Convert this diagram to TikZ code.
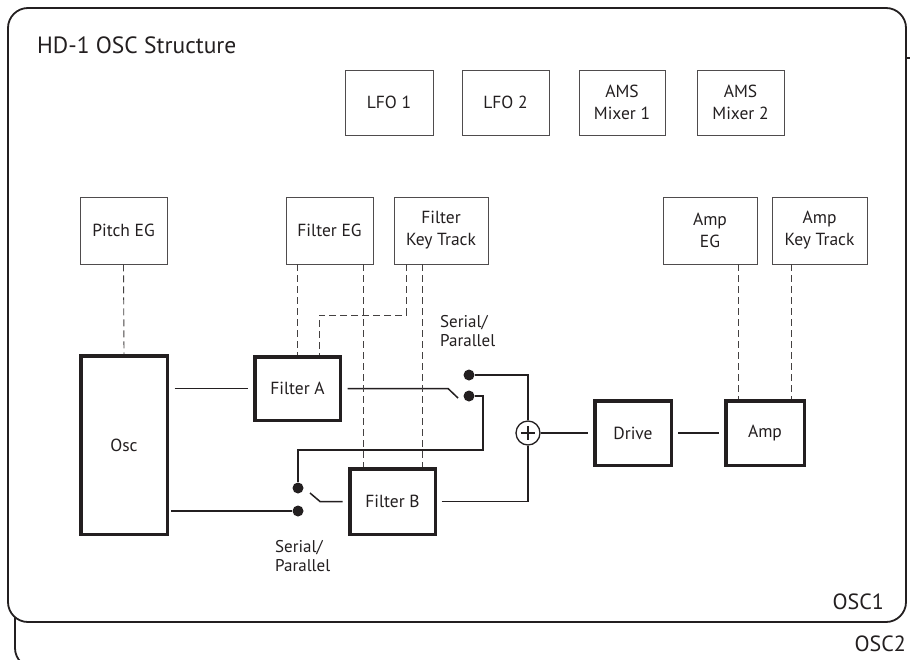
\documentclass[tikz,border=0pt]{standalone}
\usepackage{fontspec}
\setmainfont{PT Sans}
\definecolor{ink}{HTML}{231F20}
\begin{document}
\begin{tikzpicture}[x=1pt,y=-1pt,
  every node/.style={text=ink},
  tb/.style={draw=ink!80, line width=0.9pt, minimum width=#1, inner sep=0pt, align=center,
    font=\fontsize{17.5}{22}\selectfont},
  thick box/.style={draw=ink, line width=3.5pt, inner sep=0pt, align=center,
    font=\fontsize{17.5}{22}\selectfont},
  wire/.style={draw=ink, line width=1.5pt},
  dsh/.style={draw=ink!85, line width=0.9pt, dash pattern=on 7pt off 4pt},
  frame/.style={draw=ink, line width=1.8pt, rounded corners=20pt},
  sdot/.style={circle, fill=ink, inner sep=0pt, minimum size=11pt},
  lbl/.style={align=left, font=\fontsize{17}{19}\selectfont, inner sep=0pt}
]
\useasboundingbox (0,0) rectangle (910,659);
% OSC2 frame (behind)
\begin{scope}
  \clip (0,0) rectangle (910,659);
  \draw[frame] (15,58) rectangle (980,668);
\end{scope}
% OSC1 frame
\draw[frame, fill=white] (8,8) rectangle (906,622);

\node[anchor=base west, inner sep=0pt, font=\fontsize{23.5}{28}\selectfont] (title) at (37,53) {HD-1 OSC Structure};

% top row
\node[tb=88pt, minimum height=65pt] (lfo1) at (389,102.5) {LFO 1};
\node[tb=87pt, minimum height=65pt] (lfo2) at (505.5,102.5) {LFO 2};
\node[tb=86pt, minimum height=65pt] (ams1) at (622,102.5) {AMS\\Mixer 1};
\node[tb=87pt, minimum height=65pt] (ams2) at (740.5,102.5) {AMS\\Mixer 2};

% modulators
\node[tb=87pt, minimum height=67pt] (peg) at (123.5,230.5) {Pitch EG};
\node[tb=87pt, minimum height=67pt] (feg) at (329.5,230.5) {Filter EG};
\node[tb=94pt, minimum height=67pt] (fkt) at (441,230.5) {Filter\\Key Track};
\node[tb=94pt, minimum height=67pt] (aeg) at (710,230.5) {Amp\\EG};
\node[tb=95pt, minimum height=67pt] (akt) at (819.5,230.5) {Amp\\Key Track};

% signal path
\node[thick box, minimum width=86.5pt, minimum height=178.5pt] (osc) at (124,445) {Osc};
\node[thick box, minimum width=85.5pt, minimum height=63.5pt] (fa) at (297.5,388.5) {Filter A};
\node[thick box, minimum width=85.5pt, minimum height=65.5pt] (fb) at (392.5,501.5) {Filter B};
\node[thick box, minimum width=76.5pt, minimum height=64.5pt] (drive) at (633,433) {Drive};
\node[thick box, minimum width=78.5pt, minimum height=64.5pt] (amp) at (765,433) {Amp};
\node[circle, draw=ink, line width=1.3pt, minimum size=24pt, inner sep=0pt] (plus) at (528,433) {};
\draw[ink, line width=1.3pt] (plus.center) +(-7,0) -- +(7,0) (plus.center) +(0,-7) -- +(0,7);

% switch contacts
\node[sdot] (d1) at (469,375) {};
\node[sdot] (d2) at (469,396) {};
\node[sdot] (d3) at (298,488) {};
\node[sdot] (d4) at (298,511) {};
\coordinate (sw1p) at (448,388.5);
\coordinate (sw1q) at (458,398);
\coordinate (sw2p) at (310,493);
\coordinate (sw2q) at (320,501.5);
\coordinate (c1) at (483,450);

% wires
\draw[wire, shorten <=5.5pt, shorten >=5.5pt] (fa.west -| osc.east) -- (fa.west);
\draw[wire, shorten <=2pt] (d4 -| osc.east) -- (d4);
\draw[wire] ([xshift=5.5pt]fa.east) -- (sw1p) -- (sw1q);
\draw[wire] (d1) -| (plus.north);
\draw[wire] (d2) -| (c1) -| (d3);
\draw[wire, shorten >=5.5pt] (sw2p) -- (sw2q) -- (fb.west);
\draw[wire] ([xshift=4.5pt]fb.east) -| (plus.south);
\draw[wire, shorten >=5.5pt] (plus.east) -- (drive.west);
\draw[wire, shorten <=5pt, shorten >=5.5pt] (drive.east) -- (amp.west);

% modulation (dashed)
\draw[dsh] (peg.south) -- (osc.north);
\draw[dsh] (fa.north |- feg.south) -- (fa.north);
\draw[dsh] ([xshift=-10pt]feg.south east) -- ([xshift=-10pt]feg.south east |- fb.north);
\coordinate (k1) at (319,315);
\draw[dsh] ([xshift=13pt]fkt.south west) |- (k1) -- (k1 |- fa.north);
\draw[dsh] ([xshift=29pt]fkt.south west) -- ([xshift=29pt]fkt.south west |- fb.north);
\draw[dsh] ([xshift=14.25pt]amp.north west |- aeg.south) -- ([xshift=14.25pt]amp.north west);
\draw[dsh] ([xshift=-15pt]amp.north east |- akt.south) -- ([xshift=-15pt]amp.north east);

% labels (base anchor = baseline of last line)
\node[lbl, anchor=base west] (sp1) at (440,346) {Serial/\\Parallel};
\node[lbl, anchor=base west] (sp2) at (275,571) {Serial/\\Parallel};
\node[anchor=base east, inner sep=0pt, font=\fontsize{22}{26}\selectfont] (osc1) at (884,609) {OSC1};
\node[anchor=base east, inner sep=0pt, font=\fontsize{22}{26}\selectfont] (osc2) at (906,651) {OSC2};
\end{tikzpicture}
\end{document}
